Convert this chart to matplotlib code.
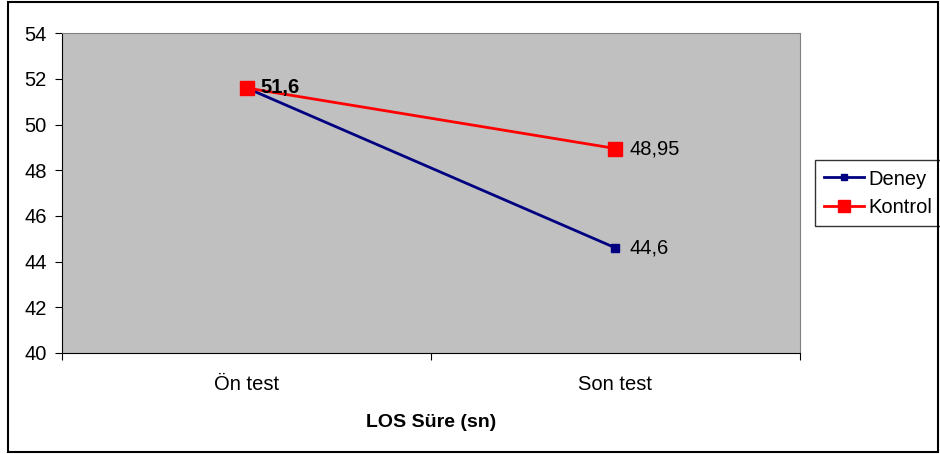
import matplotlib.pyplot as plt
from matplotlib.patches import Rectangle

plt.rcParams['font.family'] = ['Liberation Sans', 'DejaVu Sans']

categories = ['Ön test', 'Son test']
deney = [51.6, 44.6]
kontrol = [51.6, 48.95]
deney_labels = ['', '44,6']
kontrol_labels = ['51,6', '48,95']

fig = plt.figure(figsize=(9.4, 4.54), dpi=100)
ax = fig.add_axes([0.066, 0.2225, 0.785, 0.7045])
ax.set_facecolor('#c0c0c0')

x = range(len(categories))
ax.plot(x, deney, color='#000080', lw=2, marker='s', ms=6, label='Deney', zorder=3)
ax.plot(x, kontrol, color='#ff0000', lw=2, marker='s', ms=10, label='Kontrol', zorder=4)

# data labels
for i, t in enumerate(kontrol_labels):
    if t:
        bold = 'bold' if i == 0 else 'normal'
        ax.annotate(t, (i, kontrol[i]), xytext=(10, 0), textcoords='offset points',
                    va='center', ha='left', fontsize=14.5, fontweight=bold, zorder=5)
for i, t in enumerate(deney_labels):
    if t:
        ax.annotate(t, (i, deney[i]), xytext=(10, 0), textcoords='offset points',
                    va='center', ha='left', fontsize=14.5, zorder=5)

ax.set_xlim(-0.5, 1.5)
ax.set_ylim(40, 54)
ax.set_yticks(range(40, 55, 2))
ax.set_xticks([-0.5, 0.5, 1.5])
ax.set_xticklabels([])
ax.set_xticks(list(x), minor=True)
ax.set_xticklabels(categories, minor=True, fontsize=14.5)
ax.tick_params(axis='x', which='minor', length=0, pad=16)
ax.tick_params(axis='x', which='major', direction='out', length=5)
ax.tick_params(axis='y', direction='out', length=5, labelsize=14.5, pad=6)
for s in ['top', 'right']:
    ax.spines[s].set_color('#808080')
for s in ['left', 'bottom']:
    ax.spines[s].set_color('black')

ax.set_xlabel('LOS Süre (sn)', fontsize=14, fontweight='bold', labelpad=14)

leg = ax.legend(loc='center left', bbox_to_anchor=(1.02, 0.5), fontsize=14.5,
                frameon=True, fancybox=False, edgecolor='black', handlelength=2.0,
                borderpad=0.45, labelspacing=0.45, handletextpad=0.2, borderaxespad=0)
leg.get_frame().set_linewidth(1)
leg.legend_handles[1].set_markersize(8)
leg.legend_handles[0].set_markersize(5)

# outer border
fig.patches.append(Rectangle((0.008, 0.005), 0.99, 0.99, transform=fig.transFigure,
                             fill=False, edgecolor='black', lw=1.5))

fig.savefig('out.png', dpi=100)
